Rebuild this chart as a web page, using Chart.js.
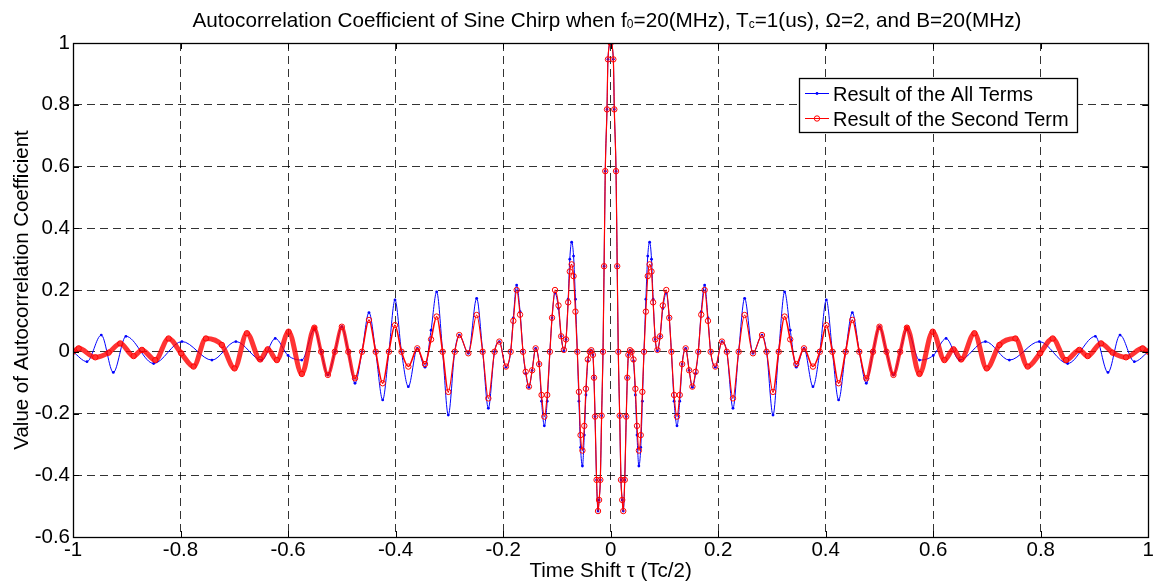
<!DOCTYPE html>
<html>
<head>
<meta charset="utf-8">
<script src="https://cdn.jsdelivr.net/npm/chart.js@4.4.1/dist/chart.umd.min.js"></script>
<style>
    html, body { margin: 0; padding: 0; background: #fff; }
    #wrap { position: relative; width: 1155px; height: 584px; }
    #title {
        position: absolute; left: 107px; top: 10px; width: 1000px;
        text-align: center; white-space: nowrap;
        font-family: "Liberation Sans", Arial, sans-serif; font-size: 20.7px; line-height: 20px; color: #000;
    }
    #title sub { font-size: 12px; vertical-align: -1px; line-height: 0; }
    canvas { position: absolute; left: 0; top: 0; }
</style>
</head>
<body>
<div id="wrap">
    <canvas id="acChart" width="1155" height="584"></canvas>
    <div id="title">Autocorrelation Coefficient of Sine Chirp when f<sub>0</sub>=20(MHz), T<sub>c</sub>=1(us), &Omega;=2, and B=20(MHz)</div>
</div>
<script>
// values for tau >= 0 (the autocorrelation is symmetric, left half is the mirror)
const tauInner = [
    0, 0.005, 0.0068, 0.010, 0.0122, 0.0142, 0.0168, 0.0192, 0.0215, 0.0235,
    0.0262, 0.029, 0.031, 0.033, 0.036, 0.039, 0.0425, 0.046, 0.049, 0.0525,
    0.056, 0.059, 0.062, 0.0655, 0.069, 0.0725, 0.076, 0.079, 0.083, 0.087,
    0.092, 0.097, 0.1035, 0.109, 0.113, 0.118, 0.1234, 0.1285, 0.133, 0.1395,
    0.146, 0.152, 0.158, 0.163, 0.1685, 0.1748, 0.181, 0.186, 0.1947, 0.207,
    0.216, 0.2275, 0.238, 0.2492, 0.2647, 0.2815, 0.290, 0.302, 0.3125, 0.3236,
    0.334, 0.3453, 0.3596, 0.3763, 0.389, 0.4011, 0.4125, 0.424, 0.437, 0.4495,
    0.4625, 0.4755, 0.488, 0.500, 0.513, 0.526, 0.5385, 0.551
]
const allTermsInner = [
    1.0, 0.947, 0.785, 0.585, 0.277, 0.0, -0.207, -0.415, -0.48, -0.516,
    -0.415, -0.21, -0.084, -0.01, 0.005, 0.0, -0.03, -0.14, -0.27, -0.37,
    -0.31, -0.16, 0.0, 0.17, 0.31, 0.355, 0.30, 0.17, 0.04, 0.003,
    0.05, 0.14, 0.19, 0.11, 0.0, -0.16, -0.24, -0.16, -0.04, 0.011,
    -0.06, -0.115, -0.07, 0.0, 0.13, 0.216, 0.11, 0.0, -0.05, 0.033,
    0.0, -0.183, 0.0, 0.173, -0.005, 0.054, 0.0, -0.205, 0.0, 0.194,
    0.07, -0.05, 0.011, -0.113, 0.0, 0.168, 0.0, -0.156, 0.0, 0.127,
    0.0, -0.102, 0.0, 0.081, 0.0, -0.075, 0.0, 0.072
]
const secondTermInner = [
    1.0, 0.947, 0.785, 0.585, 0.277, 0.0, -0.207, -0.415, -0.48, -0.516,
    -0.415, -0.21, -0.084, -0.01, 0.005, 0.0, -0.025, -0.12, -0.24, -0.32,
    -0.27, -0.13, 0.0, 0.13, 0.245, 0.283, 0.26, 0.16, 0.04, 0.006,
    0.05, 0.15, 0.20, 0.11, 0.0, -0.14, -0.21, -0.14, -0.04, 0.011,
    -0.06, -0.113, -0.065, 0.0, 0.12, 0.20, 0.10, 0.0, -0.048, 0.033,
    0.0, -0.151, 0.0, 0.119, -0.005, 0.054, 0.0, -0.13, 0.0, 0.114,
    0.04, -0.04, 0.011, -0.048, 0.0, 0.086, 0.0, -0.102, 0.0, 0.103,
    0.0, -0.086, 0.0, 0.081, 0.0, -0.075, 0.0, 0.078
]

// outer part, where the two curves drift apart
const tauAllOuter = [0.5744, 0.600, 0.6239, 0.6487, 0.697, 0.7416, 0.7974, 0.850, 0.9015, 0.925, 0.9474, 0.974, 1.0]
const allTermsOuter = [-0.027, -0.012, 0.043, -0.027, 0.033, -0.027, 0.033, -0.038, 0.050, -0.067, 0.054, -0.032, 0.0]
const tauSecondOuter = [
    0.5744, 0.5991, 0.6208, 0.6376, 0.6518, 0.6766, 0.6995, 0.7231, 0.7528, 0.7757,
    0.7987, 0.8222, 0.8470, 0.8718, 0.8873, 0.9120, 0.9337, 0.9585, 0.9895, 1.0
]
const secondTermOuter = [
    -0.072, 0.065, -0.027, 0.008, -0.025, 0.060, -0.054, 0.022, 0.043, -0.048,
    -0.005, 0.043, -0.027, 0.006, -0.014, 0.027, -0.003, -0.018, 0.011, 0.0
]

const xTicks = [-1, -0.8, -0.6, -0.4, -0.2, 0, 0.2, 0.4, 0.6, 0.8, 1]
const yTicks = [-0.6, -0.4, -0.2, 0, 0.2, 0.4, 0.6, 0.8, 1]

const FONT = "'Liberation Sans', Arial, sans-serif"
const FONT_SIZE = 20.5

// right half + mirrored left half
const toPoints = (taus, vals) => {
    const pts = []
    for (let i = taus.length - 1; i > 0; i--) pts.push({ x: -taus[i], y: vals[i] })
    for (let i = 0; i < taus.length; i++) pts.push({ x: taus[i], y: vals[i] })
    return pts
}

const allTermsPoints = toPoints(tauInner.concat(tauAllOuter), allTermsInner.concat(allTermsOuter))
const secondTermPoints = toPoints(tauInner.concat(tauSecondOuter), secondTermInner.concat(secondTermOuter))

const fmt = (v) => String(Math.round(v * 10) / 10)

const segDist = (c) => Math.min(Math.abs(c.p0.parsed.x), Math.abs(c.p1.parsed.x))

// matlab style box, inward ticks and legend
const matlabBox = {
    id: "matlabBox",
    afterDatasetsDraw: (chart) => {
        const ctx = chart.ctx
        const a = chart.chartArea
        const xs = chart.scales.x
        const ys = chart.scales.y
        ctx.save()
        ctx.strokeStyle = "#000"
        ctx.lineWidth = 1
        ctx.beginPath()
        xTicks.forEach((t) => {
            const px = Math.round(xs.getPixelForValue(t)) + 0.5
            ctx.moveTo(px, a.bottom); ctx.lineTo(px, a.bottom - 6)
            ctx.moveTo(px, a.top); ctx.lineTo(px, a.top + 6)
        })
        yTicks.forEach((t) => {
            const py = Math.round(ys.getPixelForValue(t)) + 0.5
            ctx.moveTo(a.left, py); ctx.lineTo(a.left + 6, py)
            ctx.moveTo(a.right, py); ctx.lineTo(a.right - 6, py)
        })
        ctx.stroke()
        ctx.lineWidth = 1.3
        ctx.strokeRect(Math.round(a.left) + 0.5, Math.round(a.top) + 0.5, Math.round(a.right - a.left), Math.round(a.bottom - a.top))
        ctx.restore()
    },
    afterDraw: (chart) => {
        const ctx = chart.ctx
        const ds = chart.data.datasets
        const box = { x: 799.5, y: 78.5, w: 278, h: 54 }
        ctx.save()
        ctx.fillStyle = "#fff"
        ctx.fillRect(box.x, box.y, box.w, box.h)
        ctx.strokeStyle = "#000"
        ctx.lineWidth = 1.3
        ctx.strokeRect(box.x, box.y, box.w, box.h)
        const rows = [93.5, 118.5]
        ds.forEach((d, i) => {
            const y = rows[i]
            ctx.strokeStyle = d.borderColor
            ctx.lineWidth = 1
            ctx.beginPath(); ctx.moveTo(805, y); ctx.lineTo(829, y); ctx.stroke()
            ctx.beginPath()
            ctx.arc(817, y, d.pointRadius, 0, Math.PI * 2)
            if (i === 0) { ctx.fillStyle = d.borderColor; ctx.fill() } else { ctx.stroke() }
            ctx.fillStyle = "#000"
            ctx.font = "20px " + FONT
            ctx.textBaseline = "alphabetic"
            ctx.fillText(d.label, 833, y + 7.5)
        })
        ctx.restore()
    }
}

const ctx = document.getElementById("acChart").getContext("2d")

new Chart(ctx, {
    type: "line",
    data: {
        datasets: [{
            label: "Result of the All Terms",
            data: allTermsPoints,
            order: 1,
            borderColor: "#0000ff",
            borderWidth: 1,
            pointRadius: 1.4,
            pointBackgroundColor: "#0000ff",
            pointBorderWidth: 0,
            cubicInterpolationMode: "monotone",
            fill: false
        }, {
            label: "Result of the Second Term",
            data: secondTermPoints,
            order: 0,
            borderColor: "#ff0000",
            borderWidth: 1,
            borderCapStyle: "round",
            borderJoinStyle: "round",
            pointRadius: 2.7,
            pointBackgroundColor: "rgba(255,255,255,0)",
            pointBorderColor: "#ff0000",
            pointBorderWidth: 1,
            cubicInterpolationMode: "monotone",
            fill: false,
            segment: {
                // the markers are so dense out here that they merge into a thick band
                borderWidth: (c) => {
                    const a = segDist(c)
                    return a > 0.55 ? 5 : a > 0.47 ? 3.5 : a > 0.3 ? 1.6 : 1.2
                },
                borderColor: (c) => segDist(c) > 0.47 ? "rgba(255,0,0,0.8)" : "#ff0000"
            }
        }]
    },
    options: {
        responsive: false,
        animation: false,
        devicePixelRatio: 1,
        layout: { padding: { left: 0, right: 6, top: 43, bottom: 0 } },
        plugins: {
            legend: { display: false },
            title: { display: false },
            tooltip: { enabled: false }
        },
        scales: {
            x: {
                type: "linear",
                min: -1,
                max: 1,
                afterFit: (scale) => { scale.height = 47 },
                afterBuildTicks: (scale) => { scale.ticks = xTicks.map((v) => ({ value: v })) },
                ticks: {
                    callback: fmt,
                    autoSkip: false,
                    maxRotation: 0,
                    padding: 1,
                    color: "#000",
                    font: { family: FONT, size: FONT_SIZE }
                },
                grid: { color: "rgba(0,0,0,0.8)", lineWidth: 1, drawTicks: false },
                border: { display: true, color: "#000", width: 1, dash: [8, 5] },
                title: {
                    display: true,
                    text: "Time Shift \u03c4 (Tc/2)",
                    color: "#000",
                    font: { family: FONT, size: FONT_SIZE },
                    padding: { top: 0, bottom: 0 }
                }
            },
            y: {
                min: -0.6,
                max: 1,
                afterFit: (scale) => { scale.width = 73 },
                afterBuildTicks: (scale) => { scale.ticks = yTicks.map((v) => ({ value: v })) },
                ticks: {
                    callback: fmt,
                    padding: 3,
                    color: "#000",
                    font: { family: FONT, size: FONT_SIZE }
                },
                grid: { color: "rgba(0,0,0,0.8)", lineWidth: 1, drawTicks: false },
                border: { display: true, color: "#000", width: 1, dash: [8, 5] },
                title: {
                    display: true,
                    text: "Value of Autocorrelation Coefficient",
                    color: "#000",
                    font: { family: FONT, size: FONT_SIZE },
                    padding: { top: 10, bottom: 0 }
                }
            }
        }
    },
    plugins: [matlabBox]
})
</script>
</body>
</html>
